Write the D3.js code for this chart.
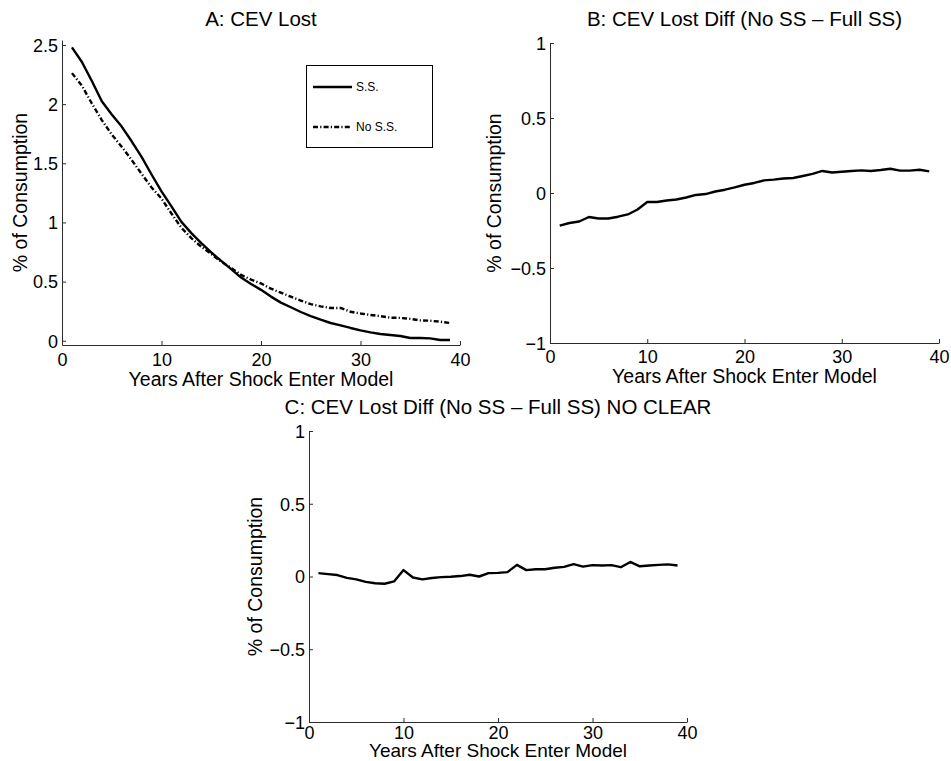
<!DOCTYPE html>
<html>
<head>
<meta charset="utf-8">
<script src="https://cdn.jsdelivr.net/npm/d3@7"></script>
<style>
  html, body { margin: 0; padding: 0; background: #fff; }
  svg { display: block; font-family: "Liberation Sans", Arial, Helvetica, sans-serif; }
</style>
</head>
<body>
<svg id="chart" width="951" height="761"></svg>
<script>
// ---------------- DATA ----------------
const years = [1,2,3,4,5,6,7,8,9,10,11,12,13,14,15,16,17,18,19,20,21,22,23,24,25,26,27,28,29,30,31,32,33,34,35,36,37,38,39];

// Panel A: CEV lost (% of consumption)
const ssLost = [2.48,2.356,2.195,2.025,1.913,1.81,1.686,1.554,1.405,1.262,1.135,1.005,0.91,0.825,0.746,0.675,0.605,0.534,0.48,0.43,0.373,0.322,0.283,0.243,0.209,0.178,0.15,0.13,0.108,0.088,0.071,0.057,0.048,0.04,0.023,0.023,0.02,0.006,0.006];
const noSsLost = [2.262,2.156,2.005,1.865,1.743,1.64,1.528,1.411,1.295,1.202,1.075,0.955,0.867,0.795,0.733,0.668,0.615,0.556,0.517,0.485,0.44,0.406,0.372,0.34,0.309,0.291,0.277,0.277,0.245,0.23,0.218,0.208,0.195,0.193,0.185,0.172,0.169,0.161,0.15];

// Panel B: CEV lost diff (No SS - Full SS)
const diffB = [-0.218,-0.20,-0.19,-0.16,-0.17,-0.17,-0.158,-0.143,-0.11,-0.06,-0.06,-0.05,-0.043,-0.03,-0.013,-0.007,0.01,0.022,0.037,0.055,0.067,0.084,0.089,0.097,0.10,0.113,0.127,0.147,0.137,0.142,0.147,0.151,0.147,0.153,0.162,0.149,0.149,0.155,0.144];

// Panel C: CEV lost diff (No SS - Full SS) NO CLEAR
const diffC = [0.023,0.016,0.01,-0.009,-0.02,-0.037,-0.046,-0.05,-0.034,0.044,-0.007,-0.02,-0.01,-0.004,-0.002,0.003,0.012,0.0,0.023,0.025,0.03,0.08,0.044,0.05,0.05,0.06,0.066,0.085,0.068,0.078,0.076,0.078,0.064,0.10,0.07,0.076,0.08,0.083,0.076];

const xTicks = [0,10,20,30,40];
const yTicksA = [0,0.5,1,1.5,2,2.5];
const yTicksDiff = [-1,-0.5,0,0.5,1];

const titles = ["A: CEV Lost", "B: CEV Lost Diff (No SS \u2013 Full SS)", "C: CEV Lost Diff (No SS \u2013 Full SS) NO CLEAR"];
const xLabel = "Years After Shock Enter Model";
const yLabel = "% of Consumption";
const legendLabels = ["S.S.", "No S.S."];

// ---------------- DRAW ----------------
const svg = d3.select("#chart");
const fmt = v => String(v).replace("-", "\u2212");
const dashDot = "5,2.2,1.2,2.2";

function panel(o) {
  const x = d3.scaleLinear().domain([0, 40]).range([o.x0, o.x1]);
  const y = d3.scaleLinear().domain(o.yDomain).range([o.yBot, o.yTop]);
  const g = svg.append("g");

  const ax = g.append("g").attr("transform", `translate(0,${o.yBot})`)
    .call(d3.axisBottom(x).tickValues(xTicks).tickFormat(fmt).tickSizeInner(-4).tickSizeOuter(0).tickPadding(o.xPad));
  const ay = g.append("g").attr("transform", `translate(${o.x0},0)`)
    .call(d3.axisLeft(y).tickValues(o.yTicks).tickFormat(fmt).tickSizeInner(-4).tickSizeOuter(0).tickPadding(4));
  [ax, ay].forEach(a => {
    a.selectAll("path.domain").attr("stroke", "#2b2b2b").attr("stroke-width", 1);
    a.selectAll(".tick line").attr("stroke", "#2b2b2b");
    a.selectAll("text").attr("font-size", 18).attr("fill", "#000")
      .attr("font-family", "'Liberation Sans', Arial, sans-serif");
  });
  ay.selectAll("text").attr("dy", "0.35em");

  const line = d3.line().x((d, i) => x(years[i])).y(d => y(d));
  o.series.forEach(s => {
    g.append("path").datum(s.values)
      .attr("fill", "none").attr("stroke", "#000").attr("stroke-width", 2.4)
      .attr("stroke-linejoin", "round")
      .attr("stroke-dasharray", s.dash || null)
      .attr("d", line);
  });

  const cx = (o.x0 + o.x1) / 2;
  g.append("text").attr("x", cx).attr("y", o.titleY).attr("text-anchor", "middle")
    .attr("font-size", 20.5).text(o.title);
  g.append("text").attr("x", cx).attr("y", o.xLabelY).attr("text-anchor", "middle")
    .attr("font-size", o.xLabelSize || 19.5).text(xLabel);
  g.append("text").attr("text-anchor", "middle").attr("font-size", 19.5)
    .attr("transform", `translate(${o.yLabelX},${(o.yTop + o.yBot) / 2}) rotate(-90)`)
    .text(yLabel);
  return g;
}

const gA = panel({
  x0: 62, x1: 460, yTop: 40, yBot: 345, yDomain: [-0.036, 2.542], yTicks: yTicksA,
  title: titles[0], titleY: 26, xLabelY: 386, yLabelX: 27, xPad: 8,
  series: [{ values: ssLost }, { values: noSsLost, dash: dashDot }]
});
panel({
  x0: 550, x1: 939, yTop: 43, yBot: 343, yDomain: [-1, 1], yTicks: yTicksDiff,
  title: titles[1], titleY: 26, xLabelY: 383, yLabelX: 501, xPad: 7,
  series: [{ values: diffB }]
});
panel({
  x0: 309, x1: 687, yTop: 431, yBot: 722, yDomain: [-1, 1], yTicks: yTicksDiff,
  title: titles[2], titleY: 414, xLabelY: 757, xLabelSize: 19, yLabelX: 262, xPad: 4,
  series: [{ values: diffC }]
});

// Legend (panel A)
const lg = gA.append("g");
lg.append("rect").attr("x", 306.5).attr("y", 65.5).attr("width", 126).attr("height", 82)
  .attr("fill", "#fff").attr("stroke", "#000").attr("stroke-width", 1);
[87, 127].forEach((ly, i) => {
  lg.append("line").attr("x1", 313).attr("x2", 352).attr("y1", ly).attr("y2", ly)
    .attr("stroke", "#000").attr("stroke-width", 2.4)
    .attr("stroke-dasharray", i === 1 ? dashDot : null);
  lg.append("text").attr("x", 356).attr("y", ly).attr("dy", "0.35em")
    .attr("font-size", 12).text(legendLabels[i]);
});
</script>
</body>
</html>
